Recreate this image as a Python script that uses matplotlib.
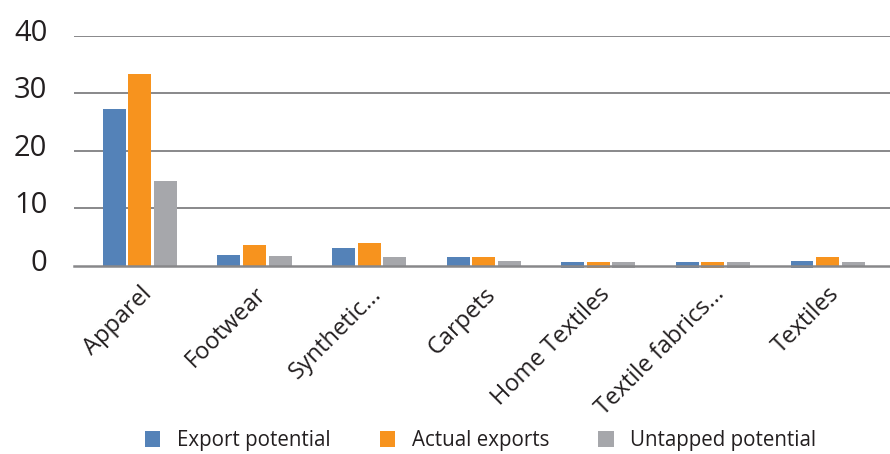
import numpy as np
import matplotlib.pyplot as plt
from matplotlib.transforms import ScaledTranslation

plt.rcParams['font.family'] = ['Open Sans', 'DejaVu Sans']

# データ
categories = ['Apparel', 'Footwear', 'Synthetic...', 'Carpets',
              'Home Textiles', 'Textile fabrics...', 'Textiles']
export_potential = [27.2, 1.9, 3.1, 1.5, 0.65, 0.65, 0.8]
actual_exports = [33.3, 3.6, 4.0, 1.5, 0.65, 0.65, 1.5]
untapped_potential = [14.8, 1.7, 1.5, 0.8, 0.65, 0.65, 0.65]
# bars dip slightly under the axis in the original
base_export = [0, 0, 0, 0, -0.4, -0.4, -0.4]
base_actual = [0, 0, 0, 0, -0.4, -0.4, 0]
base_untapped = [0, 0, 0, 0, -0.4, -0.4, 0]
yticks = [0, 10, 20, 30, 40]

series = [
    ('Export potential', export_potential, base_export, '#5482B8'),
    ('Actual exports', actual_exports, base_actual, '#F7931E'),
    ('Untapped potential', untapped_potential, base_untapped, '#A6A7AB'),
]

fig = plt.figure(figsize=(8.9, 4.54), dpi=100)
ax = fig.add_axes([0.083, 0.415, 0.917, 0.506])

x = np.arange(len(categories))
w = 0.2
step = 0.223
for i, (name, vals, base, col) in enumerate(series):
    tops = np.array(vals)
    b = np.array(base)
    ax.bar(x + (i - 1) * step, tops - b, w, bottom=b, color=col,
           label=name, zorder=2, clip_on=False)

ax.set_xlim(-0.576, 6.545)
ax.set_ylim(0, 40)
ax.set_yticks(yticks)
for y in yticks[1:]:
    ax.axhline(y, color='#88888A', lw=1.4, zorder=1)
ax.axhline(0, color='#88888A', lw=1.8, zorder=3, clip_on=False)

for s in ax.spines.values():
    s.set_visible(False)
ax.tick_params(axis='both', length=0)
ax.tick_params(axis='y', labelsize=21, pad=19, labelcolor='#231F20')
off = ScaledTranslation(0, 6 / 100, fig.dpi_scale_trans)
for lab in ax.get_yticklabels():
    lab.set_transform(lab.get_transform() + off)

ax.set_xticks(x)
ax.set_xticklabels(categories, rotation=45, ha='right', rotation_mode='anchor',
                   fontsize=17, color='#231F20')
ax.tick_params(axis='x', pad=12)

fig.legend(loc='center', bbox_to_anchor=(0.54, 0.03), ncol=3, frameon=False,
           fontsize=14.8, handlelength=0.75, handleheight=0.8,
           columnspacing=2.4, handletextpad=0.8, labelcolor='#231F20')

fig.savefig('out.png', dpi=100)
